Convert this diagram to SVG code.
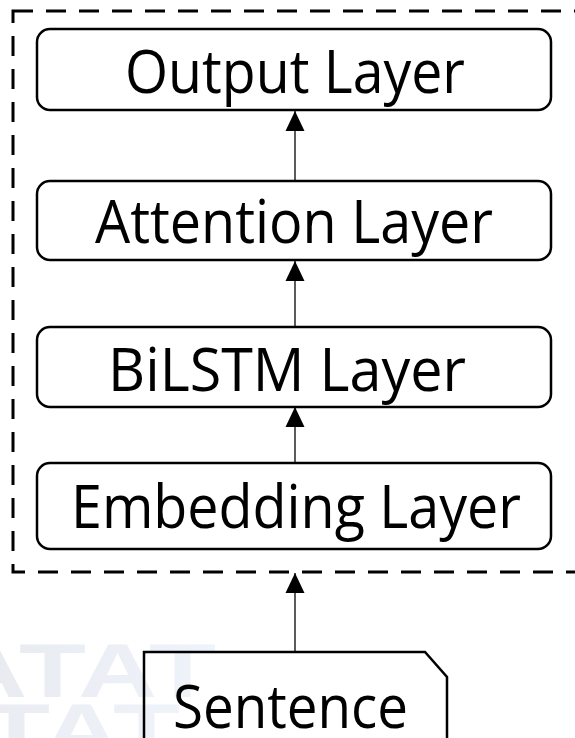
<svg xmlns="http://www.w3.org/2000/svg" width="575" height="738" viewBox="0 0 575 738">
  <style>
    .layer { fill: #ffffff; stroke: #000000; stroke-width: 2.5; }
    .label { font-family: "Open Sans", "Noto Sans", "Liberation Sans", sans-serif; font-size: 60px; fill: #000000; }
    .wire { stroke: #333333; stroke-width: 1.6; fill: none; }
    .mark { font-family: "Liberation Sans", "DejaVu Sans", sans-serif; font-weight: bold; font-size: 76px; }
  </style>
  <defs>
    <marker id="head" viewBox="0 0 20 20" refX="20" refY="10" markerWidth="20" markerHeight="20" markerUnits="userSpaceOnUse" orient="auto">
      <path d="M0,0.5 L20,10 L0,19.5 Z" fill="#000000"/>
    </marker>
    <linearGradient id="markfill" x1="0" y1="0" x2="1" y2="0">
      <stop offset="0" stop-color="#e7e9ee"/>
      <stop offset="1" stop-color="#eff3fa"/>
    </linearGradient>
  </defs>
  <rect width="575" height="738" fill="#ffffff"/>

  <!-- faint background lettering -->
  <g id="watermark" fill="url(#markfill)">
    <text class="mark" x="-52" y="697" textLength="268" lengthAdjust="spacingAndGlyphs">ATAT</text>
    <text class="mark" x="-88" y="757" textLength="268" lengthAdjust="spacingAndGlyphs">ATAT</text>
  </g>

  <!-- dashed model boundary -->
  <rect id="model" x="13" y="11" width="600" height="561" fill="none" stroke="#000000" stroke-width="3" stroke-dasharray="20 13"/>

  <g id="connectors">
    <line class="wire" x1="295" y1="181" x2="295" y2="111" marker-end="url(#head)"/>
    <line class="wire" x1="295" y1="327" x2="295" y2="261" marker-end="url(#head)"/>
    <line class="wire" x1="295" y1="463" x2="295" y2="407" marker-end="url(#head)"/>
    <line class="wire" x1="295" y1="652" x2="295" y2="573" marker-end="url(#head)"/>
  </g>

  <g id="output-layer">
    <rect class="layer" x="37" y="29" width="514" height="81" rx="13"/>
    <text class="label" x="125" y="93" textLength="340" lengthAdjust="spacingAndGlyphs">Output Layer</text>
  </g>
  <g id="attention-layer">
    <rect class="layer" x="37" y="181" width="514" height="79" rx="13"/>
    <text class="label" x="95" y="243" textLength="398" lengthAdjust="spacingAndGlyphs">Attention Layer</text>
  </g>
  <g id="bilstm-layer">
    <rect class="layer" x="37" y="327" width="514" height="80" rx="13"/>
    <text class="label" x="108" y="391" textLength="358" lengthAdjust="spacingAndGlyphs">BiLSTM Layer</text>
  </g>
  <g id="embedding-layer">
    <rect class="layer" x="37" y="463" width="514" height="86" rx="13"/>
    <text class="label" x="71" y="528" textLength="450" lengthAdjust="spacingAndGlyphs">Embedding Layer</text>
  </g>
  <g id="sentence">
    <path d="M144,760 V652 H425 L447,677 V760" fill="none" stroke="#000000" stroke-width="2.5"/>
    <text class="label" x="173" y="728" textLength="235" lengthAdjust="spacingAndGlyphs">Sentence</text>
  </g>
</svg>
